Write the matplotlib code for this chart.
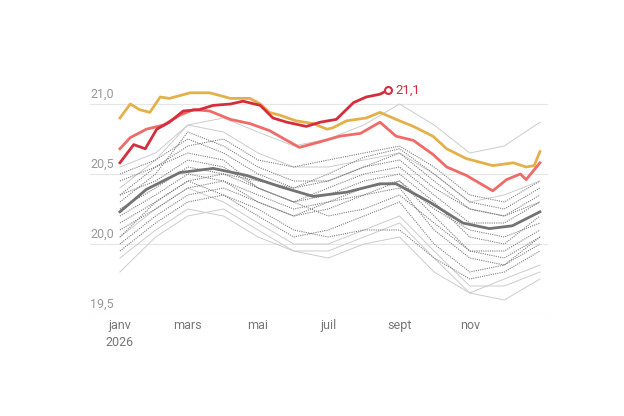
import matplotlib.pyplot as plt
import matplotlib.transforms as mtransforms

plt.rcParams['font.family'] = ['Roboto', 'DejaVu Sans']

# day of year of each reading
days_m = [0, 31, 59, 90, 120, 151, 181, 212, 243, 273, 304, 334, 365]

# background years (monthly values)
bg_dotted = [
    [20.25, 20.40, 20.55, 20.50, 20.45, 20.40, 20.50, 20.62, 20.68, 20.50, 20.30, 20.25, 20.40],
    [20.00, 20.20, 20.35, 20.40, 20.30, 20.20, 20.30, 20.40, 20.45, 20.20, 19.95, 19.90, 20.05],
    [20.45, 20.55, 20.70, 20.75, 20.60, 20.55, 20.60, 20.65, 20.70, 20.55, 20.35, 20.30, 20.45],
    [20.10, 20.25, 20.40, 20.45, 20.35, 20.25, 20.30, 20.35, 20.40, 20.10, 19.90, 19.85, 20.00],
    [20.35, 20.45, 20.60, 20.55, 20.40, 20.30, 20.40, 20.50, 20.55, 20.35, 20.15, 20.15, 20.30],
    [19.95, 20.15, 20.30, 20.35, 20.25, 20.10, 20.05, 20.10, 20.10, 19.90, 19.75, 19.80, 19.95],
    [20.30, 20.50, 20.80, 20.70, 20.55, 20.45, 20.45, 20.55, 20.60, 20.40, 20.25, 20.20, 20.35],
    [20.15, 20.30, 20.45, 20.35, 20.20, 20.05, 20.10, 20.20, 20.30, 20.00, 19.80, 19.85, 20.05],
    [20.50, 20.60, 20.75, 20.65, 20.50, 20.40, 20.45, 20.55, 20.65, 20.45, 20.25, 20.20, 20.30],
    [20.20, 20.35, 20.50, 20.45, 20.30, 20.20, 20.25, 20.35, 20.45, 20.25, 20.10, 20.05, 20.15],
    [20.35, 20.55, 20.65, 20.60, 20.40, 20.30, 20.35, 20.45, 20.50, 20.30, 20.05, 20.00, 20.20],
    [20.05, 20.30, 20.45, 20.50, 20.40, 20.30, 20.20, 20.25, 20.35, 20.15, 19.95, 19.95, 20.10],
]
bg_solid = [
    [19.80, 20.05, 20.20, 20.25, 20.10, 19.95, 19.95, 20.05, 20.15, 19.90, 19.65, 19.75, 19.85],
    [20.40, 20.60, 20.85, 20.90, 20.80, 20.70, 20.75, 20.85, 21.00, 20.85, 20.65, 20.70, 20.87],
    [20.05, 20.25, 20.40, 20.30, 20.15, 20.00, 20.00, 20.10, 20.20, 19.95, 19.70, 19.70, 19.80],
    [20.55, 20.65, 20.85, 20.80, 20.65, 20.55, 20.55, 20.60, 20.65, 20.50, 20.30, 20.35, 20.45],
    [19.90, 20.10, 20.25, 20.20, 20.05, 19.95, 19.90, 20.00, 20.05, 19.80, 19.65, 19.60, 19.75],
]

# average of all years
mean_days = [0, 23, 52, 81, 110, 139, 168, 197, 226, 240, 269, 298, 321, 341, 365]
mean_vals = [20.23, 20.39, 20.51, 20.54, 20.49, 20.41, 20.34, 20.37, 20.43, 20.43, 20.30, 20.15, 20.11, 20.13, 20.23]

orange_days = [0, 9, 17, 26, 35, 43, 61, 78, 96, 113, 122, 130, 139, 153, 168, 180, 185, 197, 214, 226, 240, 255, 272, 284, 301, 324, 342, 353, 360, 365]
orange_vals = [20.90, 21.00, 20.96, 20.94, 21.05, 21.04, 21.08, 21.08, 21.04, 21.04, 21.00, 20.94, 20.92, 20.88, 20.86, 20.82, 20.83, 20.88, 20.90, 20.94, 20.89, 20.84, 20.77, 20.68, 20.61, 20.56, 20.58, 20.55, 20.56, 20.66]

salmon_days = [0, 9, 23, 38, 52, 64, 78, 96, 113, 130, 145, 156, 174, 191, 209, 226, 240, 255, 272, 284, 301, 324, 336, 348, 353, 365]
salmon_vals = [20.68, 20.76, 20.82, 20.85, 20.92, 20.96, 20.95, 20.89, 20.86, 20.81, 20.74, 20.69, 20.73, 20.77, 20.79, 20.87, 20.77, 20.74, 20.64, 20.55, 20.49, 20.38, 20.46, 20.50, 20.46, 20.58]

red_days = [0, 12, 22, 32, 43, 55, 69, 81, 96, 107, 122, 133, 145, 162, 174, 188, 203, 214, 226, 233]
red_vals = [20.58, 20.71, 20.68, 20.82, 20.87, 20.95, 20.96, 20.99, 21.00, 21.02, 20.99, 20.90, 20.87, 20.84, 20.87, 20.89, 21.01, 21.05, 21.07, 21.10]

fig = plt.figure(figsize=(6.24, 4.16), dpi=100)
ax = fig.add_axes([90 / 624, (416 - 314) / 416, (548 - 90) / 624, (314 - 60) / 416])
ax.set_xlim(-26, 372)
ax.set_ylim(19.5, 19.5 + (314 - 60) / 140)
for s in ax.spines.values():
    s.set_visible(False)
ax.set_xticks([])
ax.set_yticks([])

for v in [20.0, 20.5, 21.0]:
    ax.axhline(v, color='#e6e6e6', lw=0.8, zorder=0)
ax.axhline(19.5, color='#d0d0d0', lw=0.8, zorder=0)

for ys in bg_solid:
    ax.plot(days_m, ys, color='#cccccc', lw=0.7, zorder=1)
for ys in bg_dotted:
    ax.plot(days_m, ys, color='#808080', lw=0.8, ls=(0, (1, 1)), zorder=2)

ax.plot(mean_days, mean_vals, color='#737373', lw=2, zorder=3)
ax.plot(orange_days, orange_vals, color='#e4b04a', lw=2, zorder=4)
ax.plot(salmon_days, salmon_vals, color='#f06b68', lw=2, zorder=4)
ax.plot(red_days, red_vals, color='#d42e3e', lw=2, zorder=5)
ax.plot(red_days[-1], red_vals[-1], 'o', ms=5, mfc='white', mec='#d42e3e', mew=1.5, zorder=6)
ax.text(red_days[-1] + 6, red_vals[-1], '21,1', color='#d42e3e', fontsize=9.5, va='center')

trans = mtransforms.blended_transform_factory(ax.transAxes, ax.transData)
for v, lab in [(19.5, '19,5'), (20.0, '20,0'), (20.5, '20,5'), (21.0, '21,0')]:
    ax.text(0, v + 0.02, lab, transform=trans, color='#999999', fontsize=9, va='bottom', ha='left')

month_days = [0, 59, 120, 181, 243, 304]
month_labels = ['janv', 'mars', 'mai', 'juil', 'sept', 'nov']
for d, lab in zip(month_days, month_labels):
    ax.text(d, 19.42, lab, color='#777777', fontsize=9, ha='center', va='center', clip_on=False)
ax.text(0, 19.30, '2026', color='#777777', fontsize=9, ha='center', va='center', clip_on=False)

fig.savefig('out.png', dpi=100)
